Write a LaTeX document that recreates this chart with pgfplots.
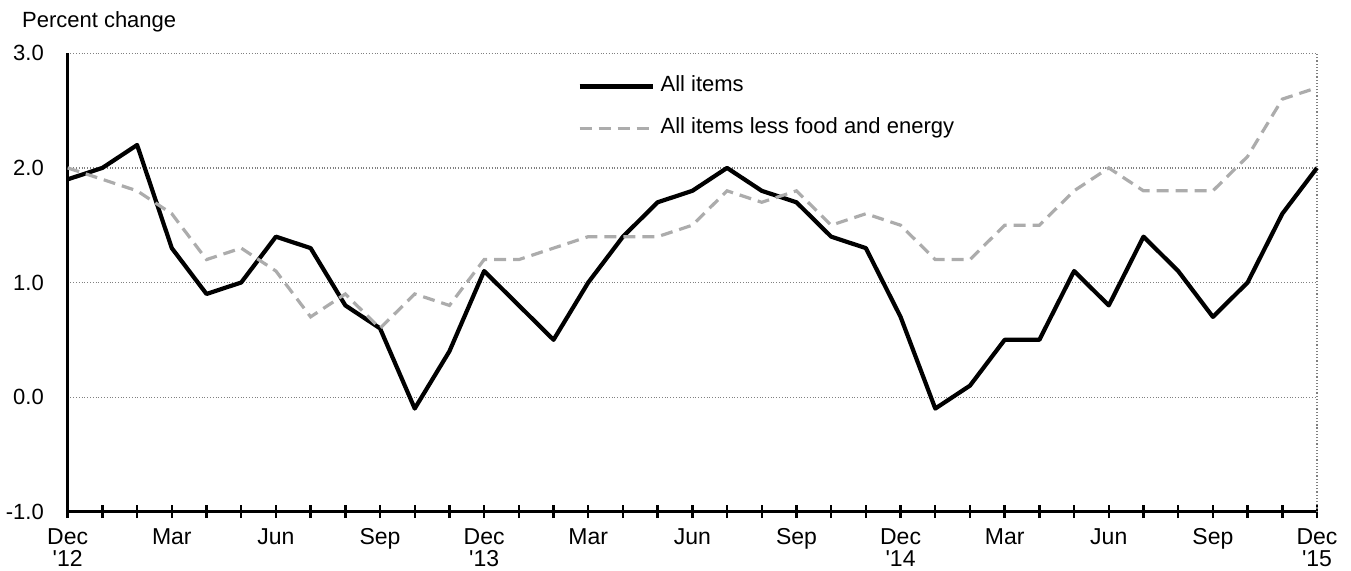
\documentclass[border=0pt]{standalone}
\usepackage{fontspec}
\setmainfont{Liberation Sans}
\usepackage{pgfplots}
\usepackage{pgfplotstable}
\pgfplotsset{compat=1.18}

\pgfplotstableread{
m all
0 1.9
1 2.0
2 2.2
3 1.3
4 0.9
5 1.0
6 1.4
7 1.3
8 0.8
9 0.6
10 -0.1
11 0.4
12 1.1
13 0.8
14 0.5
15 1.0
16 1.4
17 1.7
18 1.8
19 2.0
20 1.8
21 1.7
22 1.4
23 1.3
24 0.7
25 -0.1
26 0.1
27 0.5
28 0.5
29 1.1
30 0.8
31 1.4
32 1.1
33 0.7
34 1.0
35 1.6
36 2.0
}\allitems

\pgfplotstableread{
m core
0 2.0
1 1.9
2 1.8
3 1.6
4 1.2
5 1.3
6 1.1
7 0.7
8 0.9
9 0.6
10 0.9
11 0.8
12 1.2
13 1.2
14 1.3
15 1.4
16 1.4
17 1.4
18 1.5
19 1.8
20 1.7
21 1.8
22 1.5
23 1.6
24 1.5
25 1.2
26 1.2
27 1.5
28 1.5
29 1.8
30 2.0
31 1.8
32 1.8
33 1.8
34 2.1
35 2.6
36 2.7
}\core

\begin{document}
\begin{tikzpicture}
\path[use as bounding box] (-33.85bp,-29.65bp) rectangle ++(675.5bp,285.5bp);
\node[anchor=base west, inner sep=0pt, font=\fontsize{11bp}{13bp}\selectfont] at (-23bp,242.2bp) {Percent change};
\begin{axis}[
  at={(0,0)}, anchor=south west, scale only axis,
  width=624.65bp, height=229.2bp,
  xmin=0, xmax=36, ymin=-1, ymax=3,
  axis x line=bottom, axis y line=left,
  axis line style={line width=1.6bp, black, -},
  every outer x axis line/.append style={-},
  every outer y axis line/.append style={-},
  xtick={0,...,36},
  xticklabels={{Dec\\\textquotesingle12},,,Mar,,,Jun,,,Sep,,,{Dec\\\textquotesingle13},,,Mar,,,Jun,,,Sep,,,{Dec\\\textquotesingle14},,,Mar,,,Jun,,,Sep,,,{Dec\\\textquotesingle15}},
  xticklabel style={align=center, font=\fontsize{11.5bp}{11bp}\selectfont, yshift=-1.5bp},
  x tick style={line width=1.2bp, black},
  tick align=center,
  major tick length=6.5bp,
  ytick={-1,0,1,2,3},
  y tick style={draw=none},
  yticklabel style={font=\fontsize{11bp}{13bp}\selectfont, xshift=-5.2bp,
    /pgf/number format/fixed, /pgf/number format/fixed zerofill,
    /pgf/number format/precision=1, /pgf/number format/assume math mode=true},
  ymajorgrids,
  major grid style={gray, densely dotted, line width=0.6bp},
  legend cell align=left,
  legend style={draw=none, fill=none, at={(0.4077,0.950)}, anchor=north west,
    inner sep=0pt, font=\fontsize{11bp}{13bp}\selectfont,
    nodes={inner sep=0pt, text height=0.75em, text depth=0.25em},
    row sep=11bp, column sep=3bp},
  legend image code/.code={\draw[#1] (0bp,0bp) -- (36.5bp,0bp);},
  clip=false,
]
\draw[gray, densely dotted, line width=0.6bp] (rel axis cs:1,0) -- (rel axis cs:1,1);
\addplot[black, line width=2.1bp, line join=round] table[x=m, y=all] {\allitems};
\addlegendentry{All items}
\addplot[gray!65, line width=1.6bp, dash pattern=on 6bp off 3.5bp] table[x=m, y=core] {\core};
\addlegendentry{All items less food and energy}
\end{axis}
\end{tikzpicture}
\end{document}
